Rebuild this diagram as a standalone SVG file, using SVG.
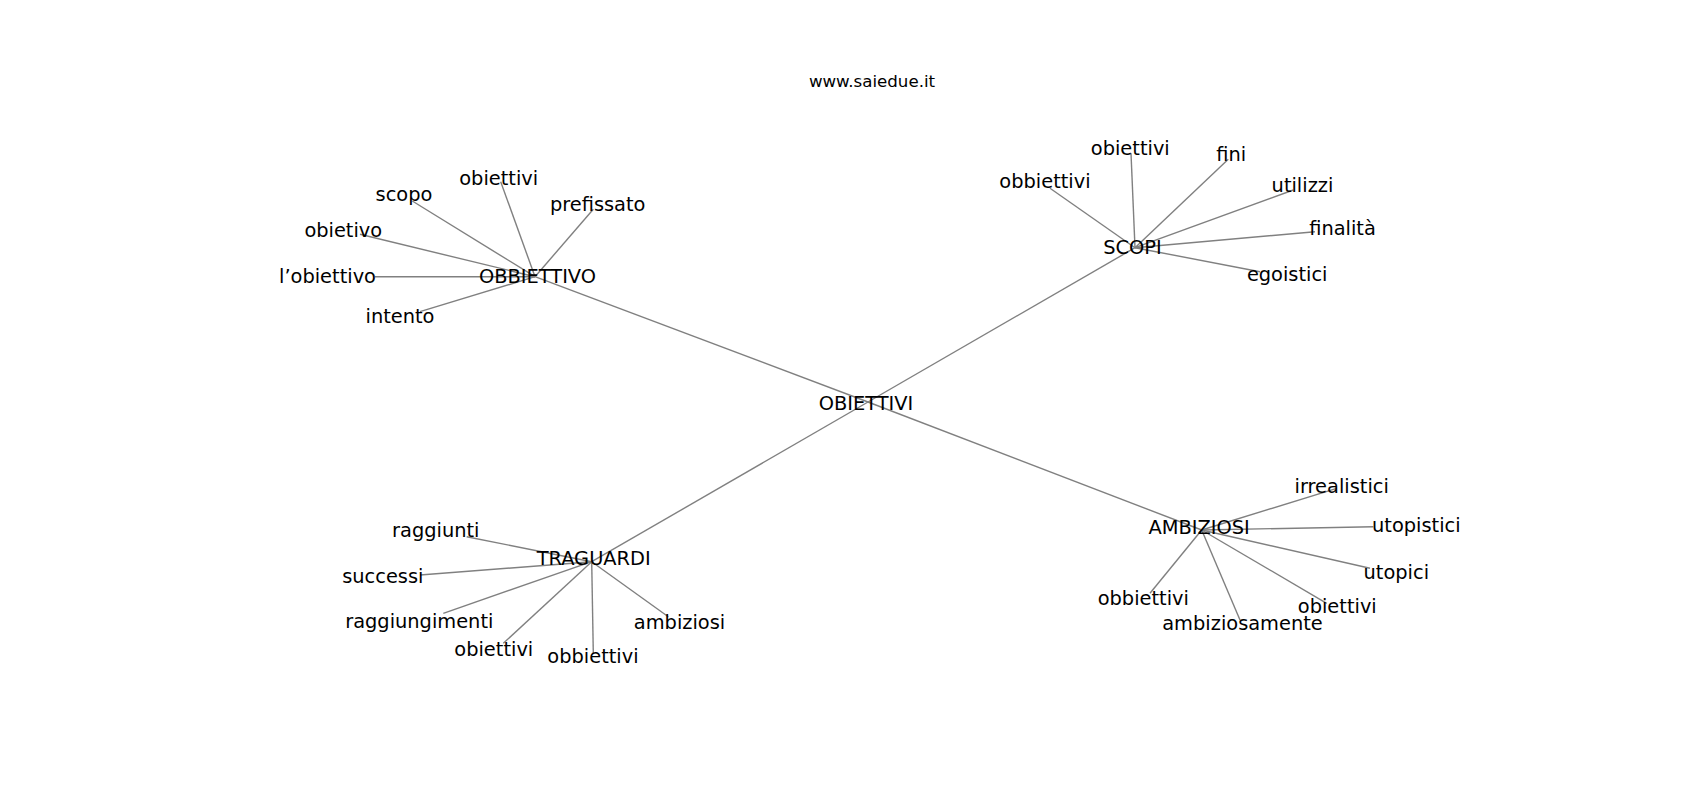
<svg xmlns="http://www.w3.org/2000/svg" width="1700" height="800" viewBox="0 0 1700 800">
<style>
text{font-family:"DejaVu Sans","Liberation Sans",sans-serif;font-size:19.4px;fill:#000;text-anchor:middle}
.t{font-size:16.67px}
#edges line{stroke:#808080;stroke-width:1.4}
</style>
<rect width="1700" height="800" fill="#fff"/>
<text class="t" x="872" y="87">www.saiedue.it</text>
<g id="edges">
<line x1="868" y1="402" x2="535" y2="276.7"/>
<line x1="868" y1="402" x2="1135" y2="247.7"/>
<line x1="868" y1="402" x2="591.7" y2="561.7"/>
<line x1="868" y1="402" x2="1201.7" y2="530"/>
<line x1="535" y1="276.7" x2="500.7" y2="181.7"/>
<line x1="535" y1="276.7" x2="412.3" y2="201"/>
<line x1="535" y1="276.7" x2="593.3" y2="209.3"/>
<line x1="535" y1="276.7" x2="360" y2="234.3"/>
<line x1="535" y1="276.7" x2="375" y2="276.7"/>
<line x1="535" y1="276.7" x2="420" y2="311.7"/>
<line x1="1135" y1="247.7" x2="1050" y2="188.3"/>
<line x1="1135" y1="247.7" x2="1131" y2="153.3"/>
<line x1="1135" y1="247.7" x2="1228.3" y2="159.3"/>
<line x1="1135" y1="247.7" x2="1293.3" y2="190"/>
<line x1="1135" y1="247.7" x2="1315" y2="231.7"/>
<line x1="1135" y1="247.7" x2="1260" y2="271.7"/>
<line x1="591.7" y1="561.7" x2="466.7" y2="536.7"/>
<line x1="591.7" y1="561.7" x2="420" y2="575"/>
<line x1="591.7" y1="561.7" x2="443.3" y2="613.3"/>
<line x1="591.7" y1="561.7" x2="503.3" y2="643.3"/>
<line x1="591.7" y1="561.7" x2="593.3" y2="653.3"/>
<line x1="591.7" y1="561.7" x2="668.3" y2="616.7"/>
<line x1="1201.7" y1="530" x2="1336.7" y2="488.3"/>
<line x1="1201.7" y1="530" x2="1373.3" y2="526.7"/>
<line x1="1201.7" y1="530" x2="1370" y2="568.3"/>
<line x1="1201.7" y1="530" x2="1326.7" y2="603.3"/>
<line x1="1201.7" y1="530" x2="1240" y2="620"/>
<line x1="1201.7" y1="530" x2="1150" y2="593.3"/>
</g>
<g id="n-obiettivi-center"><text x="866" y="410">OBIETTIVI</text></g>
<g id="n-obbiettivo"><text x="537.5" y="282.7">OBBIETTIVO</text></g>
<g id="n-obbiettivo-1"><text x="498.7" y="185">obiettivi</text></g>
<g id="n-obbiettivo-2"><text x="404" y="201">scopo</text></g>
<g id="n-obbiettivo-3"><text x="597.7" y="211">prefissato</text></g>
<g id="n-obbiettivo-4"><text x="343.3" y="236.7">obietivo</text></g>
<g id="n-obbiettivo-5"><text x="327.5" y="282.7">l’obiettivo</text></g>
<g id="n-obbiettivo-6"><text x="400" y="322.7">intento</text></g>
<g id="n-scopi"><text x="1132.5" y="254">SCOPI</text></g>
<g id="n-scopi-1"><text x="1045" y="188.3">obbiettivi</text></g>
<g id="n-scopi-2"><text x="1130.3" y="155">obiettivi</text></g>
<g id="n-scopi-3"><text x="1231.2" y="160.7">fini</text></g>
<g id="n-scopi-4"><text x="1302.5" y="191.7">utilizzi</text></g>
<g id="n-scopi-5"><text x="1342.5" y="235">finalità</text></g>
<g id="n-scopi-6"><text x="1287.2" y="280.7">egoistici</text></g>
<g id="n-traguardi"><text x="593.7" y="565">TRAGUARDI</text></g>
<g id="n-traguardi-1"><text x="435.8" y="537.3">raggiunti</text></g>
<g id="n-traguardi-2"><text x="382.8" y="583.3">successi</text></g>
<g id="n-traguardi-3"><text x="419.3" y="628.3">raggiungimenti</text></g>
<g id="n-traguardi-4"><text x="493.8" y="656">obiettivi</text></g>
<g id="n-traguardi-5"><text x="593" y="663.3">obbiettivi</text></g>
<g id="n-traguardi-6"><text x="679.5" y="629.3">ambiziosi</text></g>
<g id="n-ambiziosi"><text x="1199.2" y="534">AMBIZIOSI</text></g>
<g id="n-ambiziosi-1"><text x="1341.7" y="493.3">irrealistici</text></g>
<g id="n-ambiziosi-2"><text x="1416.3" y="531.7">utopistici</text></g>
<g id="n-ambiziosi-3"><text x="1396.3" y="579.3">utopici</text></g>
<g id="n-ambiziosi-4"><text x="1337.3" y="613.3">obiettivi</text></g>
<g id="n-ambiziosi-5"><text x="1242.5" y="630">ambiziosamente</text></g>
<g id="n-ambiziosi-6"><text x="1143.3" y="605">obbiettivi</text></g>
</svg>
